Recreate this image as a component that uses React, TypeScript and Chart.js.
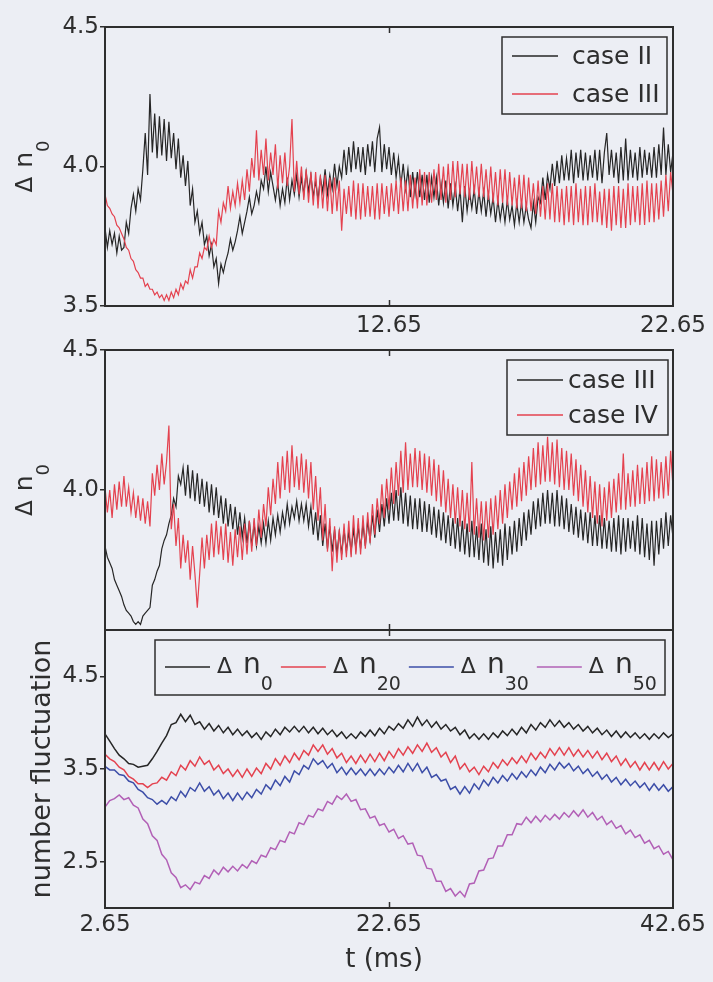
import { useEffect, useRef } from 'react';
import { Chart, registerables } from 'chart.js';

Chart.register(...registerables);

const FONT = "'DejaVu Sans', 'Liberation Sans', Arial, sans-serif";
const INK = '#2e2e2e';
const PAGE_BG = '#eceef4';
const C_BLACK = '#262626';
const C_RED = '#e4424f';
const C_BLUE = '#3d4ea8';
const C_PURPLE = '#b260b6';

// time spans (ms) over which each series is evenly sampled
const topTimeRange = [2.65, 22.65];
const midTimeRange = [2.65, 22.65];
const botTimeRange = [2.65, 42.65];

// value ranges and ticks
const topYRange = [3.5, 4.5];
const midYRange = [3.5, 4.5];
const botYRange = [2.0, 5.0];
const topYTicks = [3.5, 4.0, 4.5];
const midYTicks = [4.0, 4.5];
const botYTicks = [2.5, 3.5, 4.5];
const topXTicks = [12.65, 22.65];
const midXTicks = [12.65];
const botXTicks = [2.65, 22.65, 42.65];

// legend / series labels
const topLabels = ['case II', 'case III'];
const midLabels = ['case III', 'case IV'];
const botSubscripts = ['0', '20', '30', '50'];
const botYTitle = 'number fluctuation';
const botXTitle = 't (ms)';

// panel 1 : case II (black)
const topCaseII = [
  3.78, 3.71, 3.77, 3.72, 3.76, 3.69, 3.75, 3.70, 3.71, 3.80, 3.76, 3.85, 3.90, 3.84, 3.92, 3.88, 3.99, 4.12, 3.97, 4.26,
  4.05, 4.19, 4.03, 4.18, 4.04, 4.17, 4.02, 4.16, 4.03, 4.12, 3.99, 4.10, 3.96, 4.04, 3.93, 4.02, 3.86, 3.92, 3.80, 3.84,
  3.76, 3.80, 3.72, 3.75, 3.68, 3.72, 3.64, 3.67, 3.58, 3.65, 3.62, 3.66, 3.69, 3.74, 3.70, 3.73, 3.77, 3.82, 3.76, 3.80,
  3.84, 3.89, 3.83, 3.86, 3.91, 3.87, 3.95, 3.92, 4.00, 3.91, 3.98, 3.93, 3.88, 3.94, 3.86, 3.92, 3.87, 3.96, 3.88, 3.95,
  3.90, 3.97, 3.89, 3.96, 3.90, 3.98, 3.91, 3.97, 3.89, 3.95, 3.88, 3.96, 3.91, 3.99, 3.90, 3.97, 3.92, 4.01, 3.93, 4.00,
  3.96, 4.06, 3.97, 4.07, 3.98, 4.09, 3.99, 4.07, 3.98, 4.07, 3.97, 4.08, 4.00, 4.09, 3.98, 4.10, 4.14, 3.98, 4.08, 3.99,
  4.07, 3.97, 4.05, 3.96, 4.03, 3.93, 4.01, 3.92, 3.99, 3.89, 3.98, 3.90, 3.98, 3.89, 3.97, 3.88, 3.97, 3.87, 3.96, 3.89,
  3.96, 3.86, 3.94, 3.87, 3.95, 3.85, 3.94, 3.86, 3.93, 3.84, 3.92, 3.80, 3.93, 3.84, 3.91, 3.85, 3.92, 3.83, 3.91, 3.84,
  3.91, 3.82, 3.90, 3.83, 3.89, 3.80, 3.88, 3.81, 3.87, 3.80, 3.88, 3.81, 3.86, 3.79, 3.87, 3.80, 3.87, 3.80, 3.86, 3.81,
  3.78, 3.87, 3.80, 3.89, 3.87, 3.96, 3.88, 3.97, 3.92, 4.01, 3.93, 4.02, 3.94, 4.04, 3.95, 4.03, 3.95, 4.06, 3.94, 4.05,
  3.96, 4.06, 3.95, 4.05, 3.95, 4.04, 3.96, 4.06, 3.95, 4.06, 3.94, 4.05, 4.12, 3.97, 4.06, 3.96, 4.05, 3.94, 4.07, 3.95,
  4.10, 3.95, 4.06, 3.96, 4.05, 3.95, 4.07, 3.96, 4.06, 3.97, 4.05, 3.96, 4.07, 3.96, 4.08, 3.97, 4.14, 3.97, 4.08, 3.98,
  4.05,
];

// panel 1 : case III (red)
const topCaseIII = [
  3.90, 3.86, 3.85, 3.83, 3.82, 3.79, 3.78, 3.76, 3.74, 3.71, 3.70, 3.67, 3.66, 3.63, 3.62, 3.60, 3.60, 3.57, 3.58, 3.56,
  3.56, 3.54, 3.55, 3.53, 3.54, 3.52, 3.54, 3.52, 3.55, 3.53, 3.56, 3.54, 3.58, 3.56, 3.59, 3.58, 3.63, 3.60, 3.64, 3.64,
  3.69, 3.67, 3.71, 3.70, 3.75, 3.71, 3.74, 3.72, 3.84, 3.80, 3.87, 3.84, 3.93, 3.85, 3.91, 3.86, 3.94, 3.87, 3.95, 3.88,
  3.99, 3.91, 4.03, 3.96, 4.13, 3.95, 4.06, 3.97, 4.10, 3.95, 4.05, 3.97, 4.08, 3.92, 4.04, 3.94, 4.05, 3.93, 4.00, 4.17,
  3.91, 4.02, 3.90, 4.00, 3.88, 3.99, 3.87, 3.98, 3.86, 3.98, 3.85, 3.97, 3.85, 3.97, 3.84, 3.96, 3.83, 3.96, 3.84, 3.95,
  3.77, 3.92, 3.83, 3.93, 3.82, 3.95, 3.81, 3.94, 3.81, 3.94, 3.82, 3.93, 3.82, 3.93, 3.81, 3.94, 3.81, 3.94, 3.83, 3.93,
  3.82, 3.94, 3.84, 3.95, 3.83, 3.96, 3.84, 3.95, 3.84, 3.97, 3.85, 3.96, 3.85, 3.99, 3.86, 3.98, 3.86, 3.98, 3.87, 3.99,
  3.88, 4.01, 3.88, 4.00, 3.87, 4.01, 3.88, 4.02, 3.89, 4.02, 3.90, 4.01, 3.89, 4.01, 3.88, 4.02, 3.90, 4.00, 3.89, 4.01,
  3.89, 3.99, 3.88, 4.00, 3.87, 3.98, 3.86, 3.99, 3.87, 3.99, 3.86, 3.98, 3.86, 3.96, 3.85, 3.97, 3.85, 3.97, 3.84, 3.96,
  3.84, 3.94, 3.83, 3.95, 3.82, 3.93, 3.81, 3.94, 3.81, 3.94, 3.80, 3.93, 3.80, 3.92, 3.79, 3.93, 3.80, 3.93, 3.79, 3.94,
  3.80, 3.92, 3.79, 3.93, 3.79, 3.93, 3.80, 3.94, 3.80, 3.91, 3.79, 3.92, 3.78, 3.92, 3.77, 3.93, 3.79, 3.93, 3.78, 3.92,
  3.78, 3.94, 3.79, 3.93, 3.80, 3.93, 3.79, 3.94, 3.79, 3.95, 3.80, 3.94, 3.80, 3.94, 3.81, 3.95, 3.82, 3.97, 3.84, 3.98,
  3.90,
];

// panel 2 : case III (black)
const midCaseIII = [
  3.80, 3.76, 3.74, 3.72, 3.68, 3.66, 3.64, 3.62, 3.59, 3.57, 3.56, 3.55, 3.53, 3.52, 3.53, 3.52, 3.55, 3.56, 3.57, 3.58,
  3.66, 3.68, 3.71, 3.73, 3.79, 3.82, 3.84, 3.88, 3.91, 3.97, 3.94, 4.05, 4.02, 4.08, 3.98, 4.09, 3.97, 4.07, 3.96, 4.06,
  3.95, 4.04, 3.94, 4.03, 3.92, 4.02, 3.91, 4.01, 3.90, 3.98, 3.88, 3.97, 3.87, 3.95, 3.86, 3.94, 3.84, 3.92, 3.83, 3.90,
  3.81, 3.89, 3.80, 3.88, 3.80, 3.87, 3.81, 3.88, 3.81, 3.89, 3.82, 3.90, 3.84, 3.91, 3.85, 3.92, 3.87, 3.95, 3.88, 3.94,
  3.90, 3.96, 3.89, 3.95, 3.89, 3.95, 3.87, 3.94, 3.84, 3.92, 3.82, 3.91, 3.80, 3.88, 3.79, 3.87, 3.78, 3.86, 3.77, 3.85,
  3.77, 3.86, 3.78, 3.85, 3.78, 3.86, 3.79, 3.87, 3.79, 3.88, 3.80, 3.89, 3.82, 3.91, 3.83, 3.93, 3.85, 3.95, 3.87, 3.97,
  3.88, 3.99, 3.89, 4.00, 3.89, 4.01, 3.88, 3.99, 3.87, 3.98, 3.86, 3.97, 3.86, 3.97, 3.85, 3.96, 3.85, 3.95, 3.84, 3.94,
  3.83, 3.93, 3.82, 3.92, 3.81, 3.91, 3.80, 3.90, 3.79, 3.90, 3.78, 3.89, 3.77, 3.88, 3.76, 3.89, 3.76, 3.87, 3.75, 3.88,
  3.74, 3.86, 3.73, 3.87, 3.72, 3.85, 3.74, 3.86, 3.73, 3.88, 3.75, 3.87, 3.77, 3.89, 3.78, 3.90, 3.80, 3.92, 3.82, 3.93,
  3.84, 3.96, 3.86, 3.97, 3.87, 3.99, 3.88, 4.00, 3.88, 3.99, 3.87, 4.00, 3.87, 3.98, 3.86, 3.97, 3.85, 3.95, 3.84, 3.94,
  3.83, 3.93, 3.82, 3.92, 3.81, 3.92, 3.80, 3.91, 3.80, 3.91, 3.79, 3.90, 3.79, 3.89, 3.78, 3.90, 3.78, 3.91, 3.77, 3.90,
  3.78, 3.90, 3.79, 3.89, 3.78, 3.91, 3.77, 3.90, 3.76, 3.88, 3.75, 3.89, 3.73, 3.89, 3.77, 3.90, 3.79, 3.92, 3.80, 3.91,
  3.83,
];

// panel 2 : case IV (red)
const midCaseIV = [
  4.01, 3.92, 4.00, 3.90, 4.02, 3.93, 4.03, 3.94, 4.05, 3.94, 4.01, 3.92, 3.99, 3.90, 3.98, 3.89, 3.97, 3.88, 3.96, 3.87,
  4.06, 3.98, 4.09, 4.00, 4.13, 4.02, 4.10, 4.23, 3.86, 3.95, 3.80, 3.90, 3.72, 3.84, 3.74, 3.82, 3.68, 3.80, 3.70, 3.58,
  3.70, 3.83, 3.72, 3.84, 3.75, 3.88, 3.76, 3.89, 3.77, 3.87, 3.75, 3.88, 3.74, 3.85, 3.73, 3.86, 3.76, 3.87, 3.75, 3.88,
  3.77, 3.89, 3.78, 3.90, 3.80, 3.93, 3.83, 3.95, 3.87, 4.01, 3.91, 4.04, 3.95, 4.10, 3.97, 4.12, 4.00, 4.14, 3.99, 4.16,
  4.01, 4.12, 4.00, 4.13, 3.99, 4.11, 3.97, 4.10, 3.93, 4.05, 3.89, 4.01, 3.82, 3.95, 3.78, 3.90, 3.71, 3.87, 3.74, 3.86,
  3.75, 3.88, 3.76, 3.89, 3.76, 3.91, 3.77, 3.90, 3.77, 3.91, 3.79, 3.92, 3.81, 3.95, 3.84, 3.97, 3.88, 4.02, 3.90, 4.04,
  3.93, 4.08, 3.95, 4.10, 3.98, 4.14, 3.99, 4.17, 4.00, 4.13, 4.01, 4.15, 4.01, 4.14, 4.00, 4.13, 3.99, 4.12, 3.98, 4.11,
  3.96, 4.09, 3.94, 4.07, 3.92, 4.04, 3.90, 4.02, 3.88, 4.01, 3.87, 4.00, 3.86, 3.99, 3.85, 4.10, 3.84, 3.97, 3.83, 3.96,
  3.82, 3.96, 3.83, 3.97, 3.84, 3.98, 3.86, 4.00, 3.88, 4.02, 3.90, 4.03, 3.93, 4.06, 3.94, 4.08, 3.96, 4.10, 3.98, 4.12,
  4.00, 4.15, 4.01, 4.17, 4.02, 4.16, 4.03, 4.19, 4.03, 4.17, 4.02, 4.18, 4.01, 4.15, 4.00, 4.14, 4.00, 4.13, 3.98, 4.11,
  3.96, 4.09, 3.94, 4.07, 3.92, 4.05, 3.90, 4.03, 3.88, 4.02, 3.87, 4.01, 3.89, 4.03, 3.90, 4.04, 3.92, 4.06, 3.93, 4.13,
  3.93, 4.06, 3.94, 4.07, 3.94, 4.09, 3.95, 4.08, 3.95, 4.10, 3.96, 4.12, 3.96, 4.11, 3.97, 4.10, 3.97, 4.12, 3.98, 4.14,
  4.01,
];

// panel 3 : Δn0 (black)
const botN0 = [
  3.88, 3.80, 3.72, 3.65, 3.61, 3.56, 3.55, 3.52, 3.53, 3.54,
  3.61, 3.69, 3.78, 3.86, 3.98, 4.00, 4.09, 4.01, 4.08, 3.98,
  4.01, 3.93, 3.99, 3.91, 3.97, 3.89, 3.95, 3.87, 3.93, 3.86,
  3.91, 3.84, 3.89, 3.82, 3.90, 3.85, 3.93, 3.87, 3.95, 3.90,
  3.96, 3.90, 3.96, 3.89, 3.95, 3.88, 3.94, 3.87, 3.92, 3.85,
  3.90, 3.83, 3.88, 3.83, 3.90, 3.85, 3.92, 3.86, 3.94, 3.88,
  3.96, 3.92, 3.99, 3.94, 4.03, 3.96, 4.06, 3.97, 4.03, 3.95,
  4.01, 3.93, 3.98, 3.91, 3.95, 3.87, 3.92, 3.83, 3.88, 3.82,
  3.88, 3.82, 3.89, 3.84, 3.91, 3.86, 3.93, 3.87, 3.95, 3.89,
  3.98, 3.92, 4.00, 3.95, 4.03, 3.96, 4.02, 3.95, 4.00, 3.93,
  3.98, 3.91, 3.96, 3.89, 3.94, 3.87, 3.92, 3.85, 3.91, 3.84,
  3.90, 3.84, 3.89, 3.83, 3.88, 3.82, 3.88, 3.83, 3.89, 3.84,
  3.88,
];

// panel 3 : Δn20 (red)
const botN20 = [
  3.66, 3.61, 3.58, 3.52, 3.49, 3.42, 3.39, 3.34, 3.34, 3.30,
  3.34, 3.35, 3.41, 3.38, 3.47, 3.43, 3.54, 3.49, 3.59, 3.53,
  3.63, 3.55, 3.59, 3.49, 3.54, 3.45, 3.50, 3.42, 3.49, 3.41,
  3.50, 3.42, 3.51, 3.45, 3.56, 3.50, 3.61, 3.54, 3.64, 3.57,
  3.67, 3.60, 3.70, 3.65, 3.76, 3.69, 3.76, 3.66, 3.72, 3.62,
  3.67, 3.57, 3.64, 3.56, 3.65, 3.57, 3.66, 3.58, 3.67, 3.59,
  3.69, 3.62, 3.72, 3.65, 3.74, 3.67, 3.76, 3.69, 3.78, 3.68,
  3.73, 3.63, 3.68, 3.57, 3.64, 3.50, 3.56, 3.47, 3.52, 3.44,
  3.53, 3.47, 3.57, 3.51, 3.60, 3.54, 3.62, 3.56, 3.64, 3.57,
  3.67, 3.60, 3.68, 3.62, 3.72, 3.65, 3.73, 3.65, 3.73, 3.64,
  3.71, 3.63, 3.70, 3.62, 3.69, 3.60, 3.67, 3.58, 3.64, 3.54,
  3.61, 3.52, 3.58, 3.49, 3.57, 3.49, 3.57, 3.49, 3.58, 3.50,
  3.56,
];

// panel 3 : Δn30 (blue)
const botN30 = [
  3.53, 3.49, 3.49, 3.44, 3.43, 3.37, 3.35, 3.28, 3.25, 3.19,
  3.17, 3.12, 3.16, 3.12, 3.20, 3.16, 3.26, 3.20, 3.30, 3.26,
  3.35, 3.26, 3.31, 3.22, 3.27, 3.18, 3.24, 3.16, 3.24, 3.17,
  3.25, 3.19, 3.28, 3.23, 3.33, 3.28, 3.38, 3.32, 3.42, 3.36,
  3.48, 3.44, 3.54, 3.50, 3.61, 3.55, 3.59, 3.51, 3.56, 3.46,
  3.52, 3.44, 3.51, 3.44, 3.50, 3.43, 3.50, 3.43, 3.50, 3.44,
  3.52, 3.46, 3.54, 3.47, 3.56, 3.48, 3.56, 3.46, 3.52, 3.41,
  3.44, 3.37, 3.39, 3.28, 3.31, 3.23, 3.31, 3.24, 3.34, 3.28,
  3.38, 3.32, 3.41, 3.35, 3.43, 3.37, 3.45, 3.39, 3.47, 3.41,
  3.49, 3.43, 3.52, 3.46, 3.55, 3.49, 3.57, 3.51, 3.56, 3.48,
  3.53, 3.45, 3.50, 3.42, 3.47, 3.39, 3.44, 3.36, 3.41, 3.33,
  3.39, 3.32, 3.37, 3.30, 3.35, 3.27, 3.34, 3.27, 3.33, 3.26,
  3.31,
];

// panel 3 : Δn50 (purple)
const botN50 = [
  3.09, 3.16, 3.18, 3.22, 3.17, 3.19, 3.11, 3.08, 2.96, 2.91,
  2.78, 2.73, 2.58, 2.52, 2.38, 2.33, 2.22, 2.25, 2.20, 2.28,
  2.26, 2.35, 2.32, 2.41, 2.36, 2.44, 2.39, 2.45, 2.40, 2.47,
  2.43, 2.51, 2.48, 2.57, 2.55, 2.65, 2.63, 2.73, 2.71, 2.82,
  2.80, 2.92, 2.90, 3.00, 2.98, 3.07, 3.05, 3.15, 3.12, 3.21,
  3.17, 3.23, 3.15, 3.17, 3.06, 3.07, 2.97, 2.99, 2.89, 2.91,
  2.82, 2.85, 2.75, 2.78, 2.69, 2.70, 2.57, 2.56, 2.43, 2.42,
  2.29, 2.29, 2.18, 2.21, 2.13, 2.18, 2.12, 2.26, 2.27, 2.40,
  2.41, 2.53, 2.54, 2.67, 2.67, 2.79, 2.79, 2.91, 2.90, 2.98,
  2.92, 2.99, 2.93, 3.00, 2.95, 3.01, 2.96, 3.03, 2.98, 3.05,
  2.99, 3.06, 2.98, 3.03, 2.95, 2.99, 2.90, 2.94, 2.86, 2.89,
  2.80, 2.84, 2.76, 2.79, 2.70, 2.73, 2.64, 2.67, 2.58, 2.61,
  2.52,
];

// ---------------------------------------------------------------------------

function samples(values: number[], range: number[]) {
  const [t0, t1] = range;
  const n = values.length;
  return values.map((y, i) => ({ x: t0 + (i * (t1 - t0)) / (n - 1), y }));
}

function lineDs(label: string, values: number[], range: number[], color: string, order: number, width: number) {
  return {
    label,
    data: samples(values, range),
    borderColor: color,
    backgroundColor: color,
    borderWidth: width,
    pointRadius: 0,
    tension: 0,
    fill: false,
    order,
  };
}

function drawFrame(chart: any, innerTicks: number[]) {
  const { ctx, chartArea: a, scales } = chart;
  ctx.save();
  ctx.strokeStyle = INK;
  ctx.lineWidth = 2;
  ctx.strokeRect(a.left, a.top, a.right - a.left, a.bottom - a.top);
  ctx.lineWidth = 1.5;
  for (const v of innerTicks) {
    const x = Math.round(scales.x.getPixelForValue(v)) + 0.5;
    ctx.beginPath();
    ctx.moveTo(x, a.top);
    ctx.lineTo(x, a.top + 6);
    ctx.moveTo(x, a.bottom);
    ctx.lineTo(x, a.bottom - 6);
    ctx.stroke();
  }
  ctx.restore();
}

function drawDeltaN(
  ctx: any,
  sub: string,
  s: { delta: number; n: number; sub: number; gap: number; drop: number },
  x: number,
  y: number,
  rotate: boolean,
  center: boolean,
) {
  ctx.save();
  ctx.fillStyle = INK;
  ctx.textBaseline = 'alphabetic';
  ctx.textAlign = 'left';
  const fD = `${s.delta}px ${FONT}`;
  const fN = `${s.n}px ${FONT}`;
  const fS = `${s.sub}px ${FONT}`;
  ctx.font = fD;
  const wD = ctx.measureText('Δ').width;
  ctx.font = fN;
  const wN = ctx.measureText('n').width;
  ctx.font = fS;
  const wS = ctx.measureText(sub).width;
  const total = wD + s.gap + wN + wS;
  ctx.translate(x, y);
  if (rotate) ctx.rotate(-Math.PI / 2);
  let cx = center ? -total / 2 : 0;
  ctx.font = fD;
  ctx.fillText('Δ', cx, 0);
  cx += wD + s.gap;
  ctx.font = fN;
  ctx.fillText('n', cx, 0);
  cx += wN;
  ctx.font = fS;
  ctx.fillText(sub, cx, s.drop);
  ctx.restore();
  return total;
}

function drawRowsLegend(
  ctx: any,
  box: { left: number; top: number; w: number; h: number },
  rows: { label: string; color: string }[],
  spec: { rowY: number[]; lineFrom: number; lineTo: number; textAt: number },
) {
  ctx.save();
  ctx.fillStyle = PAGE_BG;
  ctx.fillRect(box.left, box.top, box.w, box.h);
  ctx.strokeStyle = INK;
  ctx.lineWidth = 1.5;
  ctx.strokeRect(box.left, box.top, box.w, box.h);
  rows.forEach((r, i) => {
    const y = box.top + spec.rowY[i];
    ctx.strokeStyle = r.color;
    ctx.lineWidth = 1.5;
    ctx.beginPath();
    ctx.moveTo(box.left + spec.lineFrom, y);
    ctx.lineTo(box.left + spec.lineTo, y);
    ctx.stroke();
    ctx.fillStyle = INK;
    ctx.font = `25px ${FONT}`;
    ctx.textBaseline = 'middle';
    ctx.textAlign = 'left';
    ctx.fillText(r.label, box.left + spec.textAt, y + 1);
  });
  ctx.restore();
}

const TITLE_STYLE = { delta: 23, n: 25, sub: 18, gap: 9, drop: 17 };
const LEGEND_STYLE = { delta: 22, n: 28, sub: 19, gap: 11, drop: 17 };

function yScale(range: number[], ticks: number[]) {
  return {
    type: 'linear',
    min: range[0],
    max: range[1],
    afterBuildTicks: (s: any) => {
      s.ticks = ticks.map((v) => ({ value: v }));
    },
    afterFit: (s: any) => {
      s.width = 105;
    },
    border: { display: false },
    grid: { display: true, drawOnChartArea: false, drawTicks: true, tickLength: 5, color: INK, lineWidth: 1.5 },
    ticks: {
      color: INK,
      font: { family: FONT, size: 23 },
      padding: 1,
      callback: (v: any) => Number(v).toFixed(1),
    },
  };
}

function xScale(range: number[], ticks: number[], show: boolean, height: number, pad: number) {
  return {
    type: 'linear',
    min: range[0],
    max: range[1],
    display: show,
    afterBuildTicks: (s: any) => {
      s.ticks = ticks.map((v) => ({ value: v }));
    },
    afterFit: (s: any) => {
      s.height = height;
    },
    border: { display: false },
    grid: { display: false, drawTicks: false, tickLength: 0 },
    ticks: {
      color: INK,
      font: { family: FONT, size: 23 },
      padding: pad,
      maxRotation: 0,
      minRotation: 0,
      autoSkip: false,
      callback: (v: any) => Number(v).toFixed(2),
    },
  };
}

function baseOptions(scales: any, padding: any) {
  return {
    responsive: false,
    animation: false,
    events: [],
    layout: { padding },
    plugins: { legend: { display: false }, tooltip: { enabled: false } },
    scales,
  };
}

function buildTop() {
  return {
    type: 'line',
    data: {
      datasets: [
        lineDs(topLabels[0], topCaseII, topTimeRange, C_BLACK, 2, 1.2),
        lineDs(topLabels[1], topCaseIII, topTimeRange, C_RED, 1, 1.2),
      ],
    },
    options: baseOptions(
      { x: xScale(topTimeRange, topXTicks, true, 34, 6), y: yScale(topYRange, topYTicks) },
      { top: 27, right: 40, left: 0, bottom: 0 },
    ),
    plugins: [
      {
        id: 'decorTop',
        afterDraw(chart: any) {
          const { ctx, chartArea: a } = chart;
          drawFrame(chart, [12.65]);
          drawRowsLegend(
            ctx,
            { left: a.right - 6 - 165, top: a.top + 10, w: 165, h: 77 },
            [
              { label: topLabels[0], color: C_BLACK },
              { label: topLabels[1], color: C_RED },
            ],
            { rowY: [19, 57], lineFrom: 10, lineTo: 56, textAt: 70 },
          );
          drawDeltaN(ctx, '0', TITLE_STYLE, 32, (a.top + a.bottom) / 2, true, true);
        },
      },
    ],
  };
}

function buildMid() {
  return {
    type: 'line',
    data: {
      datasets: [
        lineDs(midLabels[0], midCaseIII, midTimeRange, C_BLACK, 2, 1.2),
        lineDs(midLabels[1], midCaseIV, midTimeRange, C_RED, 1, 1.2),
      ],
    },
    options: baseOptions(
      { x: xScale(midTimeRange, midXTicks, false, 0, 0), y: yScale(midYRange, midYTicks) },
      { top: 16, right: 40, left: 0, bottom: 16 },
    ),
    plugins: [
      {
        id: 'decorMid',
        afterDraw(chart: any) {
          const { ctx, chartArea: a } = chart;
          drawFrame(chart, [12.65]);
          drawRowsLegend(
            ctx,
            { left: a.right - 5 - 161, top: a.top + 10, w: 161, h: 75 },
            [
              { label: midLabels[0], color: C_BLACK },
              { label: midLabels[1], color: C_RED },
            ],
            { rowY: [20, 55], lineFrom: 10, lineTo: 56, textAt: 61 },
          );
          drawDeltaN(ctx, '0', TITLE_STYLE, 32, (a.top + a.bottom) / 2, true, true);
        },
      },
    ],
  };
}

function buildBot() {
  const colors = [C_BLACK, C_RED, C_BLUE, C_PURPLE];
  return {
    type: 'line',
    data: {
      datasets: [
        lineDs('Δ n' + botSubscripts[0], botN0, botTimeRange, C_BLACK, 1, 1.5),
        lineDs('Δ n' + botSubscripts[1], botN20, botTimeRange, C_RED, 2, 1.5),
        lineDs('Δ n' + botSubscripts[2], botN30, botTimeRange, C_BLUE, 3, 1.5),
        lineDs('Δ n' + botSubscripts[3], botN50, botTimeRange, C_PURPLE, 4, 1.5),
      ],
    },
    options: baseOptions(
      { x: xScale(botTimeRange, botXTicks, true, 74, 3), y: yScale(botYRange, botYTicks) },
      { top: 20, right: 40, left: 0, bottom: 0 },
    ),
    plugins: [
      {
        id: 'decorBot',
        afterDraw(chart: any) {
          const { ctx, chartArea: a } = chart;
          drawFrame(chart, [22.65]);
          // legend
          const box = { left: a.left + 50, top: a.top + 10, w: a.right - 8 - (a.left + 50), h: 55 };
          ctx.save();
          ctx.fillStyle = PAGE_BG;
          ctx.fillRect(box.left, box.top, box.w, box.h);
          ctx.strokeStyle = INK;
          ctx.lineWidth = 1.5;
          ctx.strokeRect(box.left, box.top, box.w, box.h);
          let cx = box.left + 10;
          const rowY = box.top + 27;
          botSubscripts.forEach((sub, i) => {
            ctx.strokeStyle = colors[i];
            ctx.lineWidth = 1.5;
            ctx.beginPath();
            ctx.moveTo(cx, rowY);
            ctx.lineTo(cx + 45, rowY);
            ctx.stroke();
            cx += 45 + 7;
            const w = drawDeltaN(ctx, sub, LEGEND_STYLE, cx, box.top + 33, false, false);
            cx += w + 8;
          });
          ctx.restore();
          // axis titles
          ctx.save();
          ctx.fillStyle = INK;
          ctx.font = `27px ${FONT}`;
          ctx.textAlign = 'center';
          ctx.textBaseline = 'alphabetic';
          ctx.translate(50, (a.top + a.bottom) / 2);
          ctx.rotate(-Math.PI / 2);
          ctx.fillText(botYTitle, 0, 0);
          ctx.restore();
          ctx.save();
          ctx.fillStyle = INK;
          ctx.font = `26px ${FONT}`;
          ctx.textAlign = 'center';
          ctx.textBaseline = 'alphabetic';
          ctx.fillText(botXTitle, (a.left + a.right) / 2 - 5, a.bottom + 59);
          ctx.restore();
        },
      },
    ],
  };
}

function Panel({ top, height, build }: { top: number; height: number; build: () => any }) {
  const ref = useRef<HTMLCanvasElement>(null);
  useEffect(() => {
    const chart = new Chart(ref.current as HTMLCanvasElement, build());
    return () => chart.destroy();
  }, []);
  return (
    <canvas
      ref={ref}
      width={713}
      height={height}
      style={{ position: 'absolute', left: 0, top, width: 713, height }}
    />
  );
}

export default function App() {
  return (
    <div
      style={{
        position: 'absolute',
        left: 0,
        top: 0,
        width: 713,
        height: 982,
        background: PAGE_BG,
        overflow: 'hidden',
      }}
    >
      <Panel top={0} height={340} build={buildTop} />
      <Panel top={334} height={312} build={buildMid} />
      <Panel top={610} height={372} build={buildBot} />
    </div>
  );
}
